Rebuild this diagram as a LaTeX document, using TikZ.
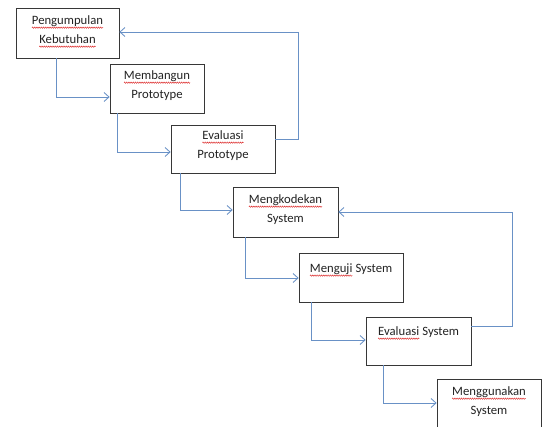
\documentclass[tikz,border=0pt]{standalone}
\usepackage{fontspec}
\setmainfont{Carlito}
\usetikzlibrary{arrows.meta,calc,decorations.pathmorphing}

\definecolor{flowblue}{RGB}{105,145,198}
\definecolor{boxline}{RGB}{55,55,55}
\definecolor{inktext}{RGB}{35,35,35}
\definecolor{spellred}{RGB}{220,40,40}

% word with a red wavy spell-check underline
\newcommand\sq[1]{\tikz[baseline=(sqw.base)]{%
  \node[inner sep=0pt,outer sep=0pt] (sqw) {#1};
  \draw[spellred,line width=0.45pt,decorate,
        decoration={zigzag,amplitude=0.7pt,segment length=2.2pt}]
    ([yshift=-3pt]sqw.base west) -- ([yshift=-3pt]sqw.base east);}}

\tikzset{
  stagebox/.style={draw=boxline,line width=0.7pt,fill=white,inner sep=0pt},
  lbl/.style={inner sep=0pt,align=center,text=inktext,
              font=\fontsize{12.7}{19}\selectfont},
  flow/.style={draw=flowblue,line width=0.85pt,
               -{Straight Barb[length=5pt,width=9pt,line width=0.85pt]}},
}

\begin{document}
\begin{tikzpicture}[x=1pt,y=-1pt]
\useasboundingbox (0,0) rectangle (543,427);

% stage boxes
\node[stagebox,minimum width=103pt,minimum height=50pt] (b1) at (67.5,33) {};
\node[stagebox,minimum width=94pt,minimum height=49pt]  (b2) at (157,88.5) {};
\node[stagebox,minimum width=104pt,minimum height=48pt] (b3) at (223,149) {};
\node[stagebox,minimum width=105pt,minimum height=50pt] (b4) at (285.5,212) {};
\node[stagebox,minimum width=104pt,minimum height=49pt] (b5) at (351,277.5) {};
\node[stagebox,minimum width=105pt,minimum height=48pt] (b6) at (418.5,341) {};
\node[stagebox,minimum width=104pt,minimum height=51pt] (b7) at (489,404.5) {};

% stage labels
\node[lbl,anchor=north] (t1) at ($(b1.north)+(0,8)$) {\sq{Pengumpulan}\\\sq{Kebutuhan}};
\node[lbl,anchor=north] (t2) at ($(b2.north)+(0,7)$) {\sq{Membangun}\\Prototype};
\node[lbl,anchor=north] (t3) at ($(b3.north)+(0,6)$) {\sq{Evaluasi}\\Prototype};
\node[lbl,anchor=north] (t4) at ($(b4.north)+(0,8)$) {\sq{Mengkodekan}\\System};
\node[lbl,anchor=north] (t5) at ($(b5.north)+(0,11)$) {\sq{Menguji} System};
\node[lbl,anchor=north] (t6) at ($(b6.north)+(0,10)$) {\sq{Evaluasi} System};
\node[lbl,anchor=north] (t7) at ($(b7.north)+(0,8)$) {\sq{Menggunakan}\\System};

% forward steps
\draw[flow] ($(b1.south west)+(41,0)$) |- ($(b2.west)+(0,8.5)$);
\draw[flow] ($(b2.south west)+(8,0)$)  |- ($(b3.west)+(0,3)$);
\draw[flow] ($(b3.south west)+(10,0)$) |- ($(b4.west)+(0,-2)$);
\draw[flow] ($(b4.south west)+(13,0)$) |- ($(b5.west)+(0,0.5)$);
\draw[flow] ($(b5.south west)+(13,0)$) |- ($(b6.west)+(0,-1)$);
\draw[flow] ($(b6.south west)+(18,0)$) |- ($(b7.west)+(0,-1.5)$);

% feedback loops
\draw[flow] ($(b3.east)+(0,-10)$) -- ++(23,0) |- ($(b1.east)+(0,-1)$);
\draw[flow] ($(b6.east)+(0,-15)$) -- ++(41,0) |- (b4.east);
\end{tikzpicture}
\end{document}
